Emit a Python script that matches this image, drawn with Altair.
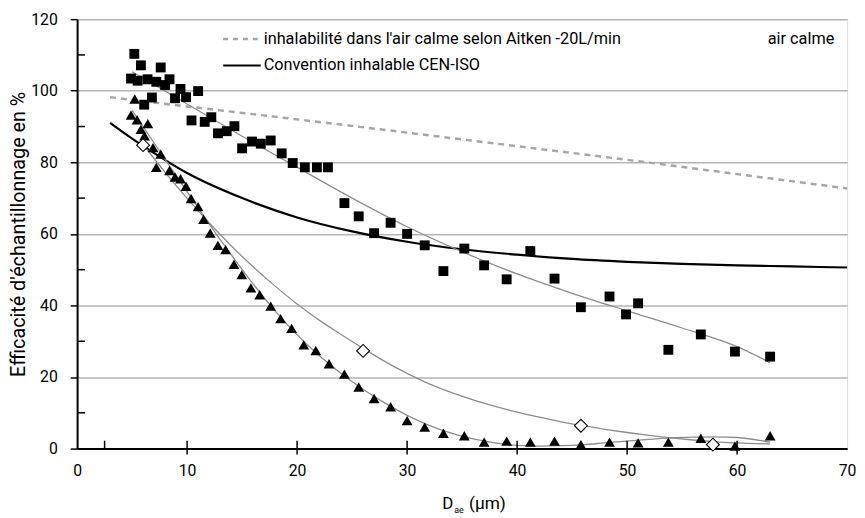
import altair as alt
import pandas as pd

# ---------------- data ----------------
sq_x = [5.2, 5.8, 7.6, 4.9, 5.5, 6.4, 7.2, 8.0, 8.4, 8.9, 9.4, 9.9, 11.0, 6.8, 6.1,
        10.4, 11.6, 12.2, 12.8, 13.6, 14.3, 15.0, 15.9, 16.7, 17.6, 18.6, 19.6, 20.7,
        21.8, 22.8, 24.3, 25.6, 27.0, 28.5, 30.0, 31.6, 33.3, 35.2, 37.0, 39.05, 41.2,
        43.4, 45.8, 48.4, 49.9, 51.0, 53.75, 56.7, 59.8, 63.0]
sq_y = [110.3, 107.1, 106.5, 103.4, 102.8, 103.2, 102.5, 101.6, 103.2, 97.9, 100.5, 98.2,
        99.9, 98.1, 96.1, 91.7, 91.3, 92.6, 88.1, 88.7, 90.1, 83.9, 85.8, 85.2, 86.1, 82.5,
        79.8, 78.6, 78.6, 78.6, 68.6, 64.9, 60.2, 63.1, 60.0, 56.8, 49.6, 55.9, 51.2, 47.3,
        55.2, 47.5, 39.5, 42.5, 37.5, 40.6, 27.6, 31.9, 27.1, 25.7]

tri_x = [5.24, 4.9, 5.45, 6.43, 5.8, 6.13, 6.9, 7.6, 7.2, 8.4, 8.9, 9.4, 9.9, 10.36, 11.0,
         11.5, 12.1, 12.8, 13.5, 14.26, 14.97, 15.8, 16.6, 17.6, 18.5, 19.5, 20.6, 21.7,
         22.9, 24.3, 25.6, 27.0, 28.5, 30.0, 31.6, 33.3, 35.2, 37.0, 39.05, 41.2, 43.4,
         45.8, 48.4, 51.0, 53.75, 56.7, 59.8, 63.0]
tri_y = [97.7, 93.2, 91.9, 90.8, 89.2, 87.4, 84.1, 82.3, 78.6, 77.7, 75.9, 75.4, 73.3, 69.9,
         67.6, 64.1, 60.2, 56.8, 55.6, 51.5, 48.6, 44.9, 43.0, 39.8, 36.3, 33.6, 29.0, 27.4,
         23.7, 20.8, 17.2, 14.0, 11.7, 7.8, 6.0, 4.3, 3.6, 1.8, 2.1, 1.8, 2.1, 1.1, 1.8, 1.6,
         1.8, 2.9, 0.7, 3.6]

dia_x = [6.0, 26.0, 45.8, 57.8]
dia_y = [84.8, 27.3, 6.4, 1.1]

trend_sq_x = [5, 10, 15, 20, 25, 30, 35, 40, 45, 50, 55, 60, 63]
trend_sq_y = [105.3, 96.3, 87.3, 78.6, 70.0, 62.0, 55.0, 48.8, 43.4, 38.5, 33.7, 28.5, 24.0]

trend_tri_x = [5.0, 6.0, 8.0, 10.0, 12.0, 14.0, 16.0, 18.0, 20.0, 22.0, 24.0, 26.0, 28.0,
               30.0, 32.0, 34.0, 36.0, 38.0, 40.0, 42.0, 44.0, 46.0, 48.0, 50.0, 52.0,
               54.0, 56.0, 58.0, 60.0, 63.0]
trend_tri_y = [94.5, 90.0, 80.8, 71.8, 62.8, 54.2, 46.0, 38.5, 31.8, 26.0, 21.0, 16.6, 12.7,
               9.3, 6.5, 4.3, 2.7, 1.6, 0.9, 0.7, 0.8, 1.1, 1.6, 2.1, 2.6, 3.0, 3.2, 3.3,
               3.1, 1.8]

trend_dia_x = [6, 8, 10, 12, 14, 16, 18, 20, 22, 24, 26, 28, 30, 32, 34, 36, 38, 40, 42,
               44, 46, 48, 50, 52, 54, 56, 58, 60, 63]
trend_dia_y = [85.0, 77.2, 69.9, 63.1, 56.7, 50.8, 45.4, 40.4, 35.9, 31.9, 28.0, 24.3, 21.0,
               18.1, 15.7, 13.6, 11.8, 10.2, 8.8, 7.5, 6.4, 5.4, 4.5, 3.7, 3.0, 2.4, 1.9,
               1.6, 1.3]

cen_x = [3, 5, 7.5, 10, 15, 20, 25, 30, 35, 40, 45, 50, 55, 60, 65, 70]
cen_y = [91.0, 86.6, 81.6, 77.0, 70.0, 64.6, 60.7, 57.8, 55.7, 54.2, 53.0, 52.2, 51.6,
         51.2, 50.9, 50.6]

ait_x = [3.0, 10.0, 20.0, 30.0, 40.0, 50.0, 60.0, 70.0]
ait_y = [98.2, 95.6, 92.0, 88.3, 84.5, 80.7, 76.7, 72.7]

x_ticks = [0, 10, 20, 30, 40, 50, 60, 70]
x_cross_ticks = [10, 20, 30, 40, 50, 60]
x_inner_extra = [2.5]
y_ticks = [0, 20, 40, 60, 80, 100, 120]
y_minor = [10, 30, 50, 70, 90, 110]

legend_labels = ["inhalabilité dans l'air calme selon Aitken -20L/min",
                 "Convention inhalable CEN-ISO"]
corner_label = "air calme"
y_title = "Efficacité d'échantillonnage en %"

# ---------------- chart ----------------
W, H = 780, 435
FONT = "Roboto"
GRAY_TREND = "#8c8c8c"


def df(xs, ys):
    return pd.DataFrame({"x": xs, "y": ys})


x_enc = alt.X("x:Q",
              scale=alt.Scale(domain=[0, 70], nice=False, zero=False),
              axis=alt.Axis(values=x_ticks, title=None, grid=False,
                            domainColor="black", domainWidth=2, tickSize=0,
                            labelFont=FONT, labelFontSize=16, labelColor="black",
                            labelPadding=14, labelFlush=False))
y_enc = alt.Y("y:Q",
              scale=alt.Scale(domain=[0, 120], nice=False, zero=False),
              axis=alt.Axis(values=y_ticks, title=y_title, grid=True,
                            gridColor="#b4b4b4", gridWidth=1.5,
                            domainColor="black", domainWidth=2,
                            tickColor="black", tickWidth=1.5, tickSize=7,
                            labelFont=FONT, labelFontSize=16, labelColor="black",
                            labelPadding=13, titleFont=FONT, titleFontSize=20,
                            titleFontWeight="normal", titleColor="black",
                            titlePadding=2))

ait = alt.Chart(df(ait_x, ait_y)).mark_line(
    color="#a6a6a6", strokeWidth=2.5, strokeDash=[6, 5], interpolate="monotone"
).encode(x=x_enc, y=y_enc)

cen = alt.Chart(df(cen_x, cen_y)).mark_line(
    color="black", strokeWidth=2.2, interpolate="monotone"
).encode(x=x_enc, y=y_enc)

t_sq = alt.Chart(df(trend_sq_x, trend_sq_y)).mark_line(
    color=GRAY_TREND, strokeWidth=1.3, interpolate="monotone"
).encode(x=x_enc, y=y_enc)
t_tri = alt.Chart(df(trend_tri_x, trend_tri_y)).mark_line(
    color=GRAY_TREND, strokeWidth=1.3, interpolate="monotone"
).encode(x=x_enc, y=y_enc)
t_dia = alt.Chart(df(trend_dia_x, trend_dia_y)).mark_line(
    color=GRAY_TREND, strokeWidth=1.3, interpolate="monotone"
).encode(x=x_enc, y=y_enc)

squares = alt.Chart(df(sq_x, sq_y)).mark_point(
    shape="square", filled=True, color="black", size=100, opacity=1
).encode(x=x_enc, y=y_enc)
triangles = alt.Chart(df(tri_x, tri_y)).mark_point(
    shape="triangle-up", filled=True, color="black", size=120, opacity=1
).encode(x=x_enc, y=y_enc)
diamonds = alt.Chart(df(dia_x, dia_y)).mark_point(
    shape="diamond", filled=True, fill="white", stroke="black", strokeWidth=1.1,
    size=170, opacity=1
).encode(x=x_enc, y=y_enc)

# axis decorations
xt = alt.Chart(pd.DataFrame({"x": x_cross_ticks})).mark_rule(
    color="black", strokeWidth=1.5
).encode(x=x_enc, y=alt.value(H - 8), y2=alt.value(H + 6))
xt2 = alt.Chart(pd.DataFrame({"x": x_inner_extra})).mark_rule(
    color="black", strokeWidth=1.5
).encode(x=x_enc, y=alt.value(H - 8), y2=alt.value(H))
ym = alt.Chart(pd.DataFrame({"y": y_minor})).mark_rule(
    color="black", strokeWidth=1.5
).encode(y=y_enc, x=alt.value(0), x2=alt.value(8))

# legend inside the plot
leg1 = alt.Chart(pd.DataFrame({"t": [legend_labels[0]]})).mark_rule(
    color="#a6a6a6", strokeWidth=2.5, strokeDash=[5, 5]
).encode(x=alt.value(148), x2=alt.value(185), y=alt.value(20))
leg2 = alt.Chart(pd.DataFrame({"t": [legend_labels[1]]})).mark_rule(
    color="black", strokeWidth=2
).encode(x=alt.value(148), x2=alt.value(186), y=alt.value(47))
lt1 = alt.Chart(pd.DataFrame({"t": [legend_labels[0]]})).mark_text(
    align="left", baseline="middle", font=FONT, fontSize=16.5, color="black"
).encode(text="t:N", x=alt.value(189), y=alt.value(20))
lt2 = alt.Chart(pd.DataFrame({"t": [legend_labels[1]]})).mark_text(
    align="left", baseline="middle", font=FONT, fontSize=16.5, color="black"
).encode(text="t:N", x=alt.value(189), y=alt.value(47))
lt3 = alt.Chart(pd.DataFrame({"t": [corner_label]})).mark_text(
    align="right", baseline="middle", font=FONT, fontSize=16.5, color="black"
).encode(text="t:N", x=alt.value(767), y=alt.value(20))

# x-axis title with subscript
xd = alt.Chart(pd.DataFrame({"t": ["D"]})).mark_text(
    align="left", baseline="alphabetic", font=FONT, fontSize=17, color="black"
).encode(text="t:N", x=alt.value(370), y=alt.value(H + 61))
xs = alt.Chart(pd.DataFrame({"t": ["ae"]})).mark_text(
    align="left", baseline="alphabetic", font=FONT, fontSize=9, color="black"
).encode(text="t:N", x=alt.value(382), y=alt.value(H + 65))
xu = alt.Chart(pd.DataFrame({"t": ["(µm)"]})).mark_text(
    align="left", baseline="alphabetic", font=FONT, fontSize=17.5, color="black"
).encode(text="t:N", x=alt.value(397), y=alt.value(H + 61))

chart = alt.layer(
    ait, cen, t_sq, t_tri, t_dia, squares, triangles, diamonds,
    xt, xt2, ym, leg1, leg2, lt1, lt2, lt3, xd, xs, xu
).properties(
    width=W, height=H,
    padding={"left": 70, "top": 8, "right": 10, "bottom": 67},
    autosize=alt.AutoSizeParams(type="none"),
).configure_view(stroke="black", strokeWidth=2).configure(background="white")

chart.save("out.html", embed_options={"renderer": "svg", "actions": False})
